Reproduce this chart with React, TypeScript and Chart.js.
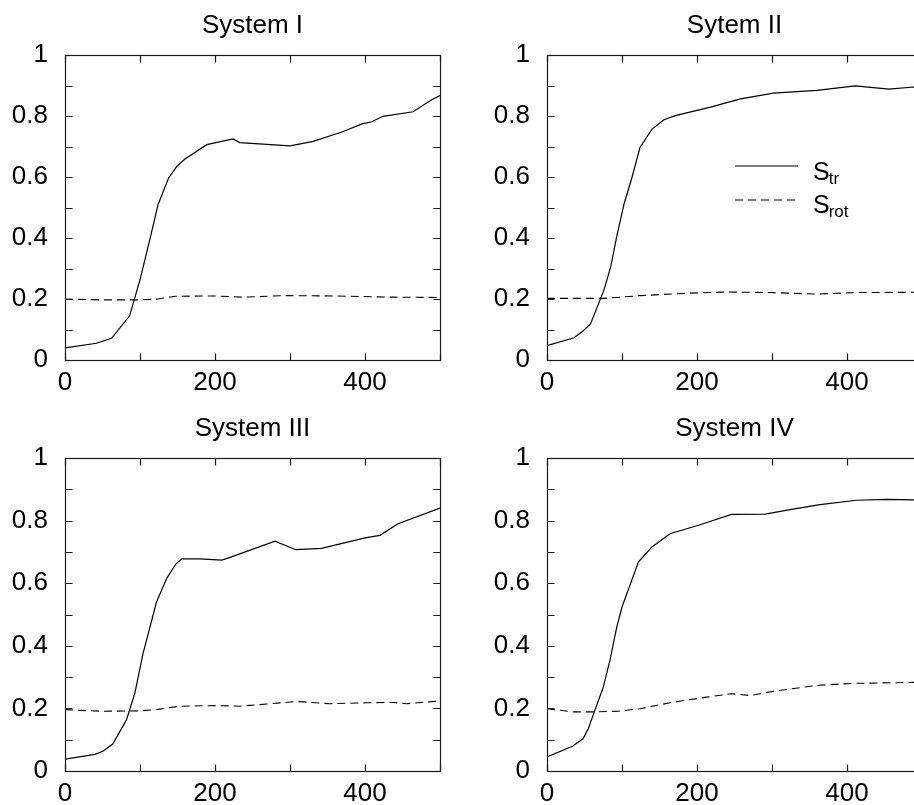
import React, { useEffect, useRef } from 'react';
import { Chart, registerables } from 'chart.js';

Chart.register(...registerables);

// ---------- data ----------
const X_TICKS = [0, 200, 400];
const Y_TICKS = [0, 0.2, 0.4, 0.6, 0.8, 1];
const X_MINOR = [0, 100, 200, 300, 400, 500];
const Y_MINOR = [0, 0.1, 0.2, 0.3, 0.4, 0.5, 0.6, 0.7, 0.8, 0.9, 1];
const TITLES = ['System I', 'Sytem II', 'System III', 'System IV'];
const LEGEND_MAIN = ['S', 'S'];
const LEGEND_SUB = ['tr', 'rot'];

const SYS1_TR: [number, number][] = [
  [0, 0.04], [42, 0.055], [62, 0.071], [86, 0.144], [100, 0.263], [113, 0.394],
  [124, 0.509], [138, 0.596], [149, 0.635], [160, 0.659], [189, 0.706], [224, 0.725],
  [233, 0.713], [264, 0.708], [300, 0.702], [331, 0.717], [371, 0.749], [396, 0.774],
  [409, 0.781], [424, 0.799], [464, 0.814], [489, 0.853], [500, 0.867],
];
const SYS1_ROT: [number, number][] = [
  [0, 0.2], [47, 0.197], [100, 0.197], [124, 0.2], [147, 0.209], [198, 0.21],
  [238, 0.206], [291, 0.211], [358, 0.21], [438, 0.206], [500, 0.205],
];
const SYS2_TR: [number, number][] = [
  [0, 0.047], [36, 0.073], [48, 0.095], [58, 0.118], [76, 0.23], [85, 0.306],
  [93, 0.405], [103, 0.514], [113, 0.596], [124, 0.697], [140, 0.757], [156, 0.788],
  [171, 0.801], [218, 0.829], [258, 0.856], [302, 0.875], [360, 0.884], [411, 0.899],
  [456, 0.888], [489, 0.895], [500, 0.895],
];
const SYS2_ROT: [number, number][] = [
  [0, 0.202], [76, 0.202], [124, 0.211], [187, 0.219], [240, 0.223], [302, 0.221],
  [360, 0.216], [409, 0.221], [489, 0.222], [500, 0.222],
];
const SYS3_TR: [number, number][] = [
  [0, 0.038], [40, 0.053], [51, 0.064], [64, 0.087], [82, 0.164], [93, 0.247],
  [104, 0.375], [122, 0.54], [136, 0.617], [148, 0.662], [156, 0.678], [180, 0.678],
  [209, 0.674], [222, 0.684], [280, 0.734], [308, 0.707], [342, 0.711], [400, 0.745],
  [420, 0.753], [444, 0.79], [500, 0.84],
];
const SYS3_ROT: [number, number][] = [
  [0, 0.196], [47, 0.191], [100, 0.192], [124, 0.197], [153, 0.207], [202, 0.209],
  [233, 0.207], [269, 0.214], [309, 0.222], [353, 0.215], [402, 0.218], [438, 0.219],
  [455, 0.215], [500, 0.224],
];
const SYS4_TR: [number, number][] = [
  [0, 0.045], [34, 0.079], [48, 0.103], [55, 0.135], [75, 0.268], [84, 0.354],
  [93, 0.46], [100, 0.524], [122, 0.668], [140, 0.716], [164, 0.758], [202, 0.785],
  [246, 0.82], [291, 0.821], [324, 0.835], [364, 0.851], [413, 0.865], [453, 0.868],
  [488, 0.866], [500, 0.866],
];
const SYS4_ROT: [number, number][] = [
  [0, 0.199], [34, 0.189], [62, 0.189], [95, 0.191], [124, 0.199], [168, 0.22],
  [213, 0.236], [246, 0.247], [271, 0.241], [302, 0.255], [362, 0.274], [408, 0.28],
  [488, 0.283], [500, 0.284],
];

const SERIES_TR = [SYS1_TR, SYS2_TR, SYS3_TR, SYS4_TR];
const SERIES_ROT = [SYS1_ROT, SYS2_ROT, SYS3_ROT, SYS4_ROT];

// ---------- layout ----------
const FONT = '"Liberation Sans", Arial, Helvetica, sans-serif';
const TICK_SIZE = 26;
const TITLE_SIZE = 26;
const PANELS = [
  { left: 0, top: 0, width: 450, height: 400, padTop: 55, legend: false },
  { left: 482, top: 0, width: 450, height: 400, padTop: 55, legend: true },
  { left: 0, top: 400, width: 450, height: 411, padTop: 58, legend: false },
  { left: 482, top: 400, width: 450, height: 411, padTop: 58, legend: false },
];
const DASH = [8, 5];

const framePlugin = {
  id: 'frame',
  afterDraw(chart: any, _args: any, opts: any) {
    const { ctx, chartArea: a } = chart;
    const xs = chart.scales.x;
    const ys = chart.scales.y;
    const L = Math.round(a.left) + 0.5;
    const R = Math.round(a.right) + 0.5;
    const T = Math.round(a.top) + 0.5;
    const B = Math.round(a.bottom) + 0.5;
    const TL = 7;
    ctx.save();
    ctx.strokeStyle = '#1a1a1a';
    ctx.lineWidth = 1.2;
    ctx.setLineDash([]);
    ctx.strokeRect(L, T, R - L, B - T);
    ctx.beginPath();
    X_MINOR.forEach((v) => {
      const px = Math.round(xs.getPixelForValue(v)) + 0.5;
      ctx.moveTo(px, B); ctx.lineTo(px, B - TL);
      ctx.moveTo(px, T); ctx.lineTo(px, T + TL);
    });
    Y_MINOR.forEach((v) => {
      const py = Math.round(ys.getPixelForValue(v)) + 0.5;
      ctx.moveTo(L, py); ctx.lineTo(L + TL, py);
      ctx.moveTo(R, py); ctx.lineTo(R - TL, py);
    });
    ctx.stroke();

    // title
    ctx.fillStyle = '#000';
    ctx.font = `${TITLE_SIZE}px ${FONT}`;
    ctx.textAlign = 'center';
    ctx.textBaseline = 'alphabetic';
    ctx.fillText(opts.title, (a.left + a.right) / 2, a.top - 22);

    if (opts.legend) {
      const lx0 = a.left + 188;
      const lx1 = a.left + 251;
      const rows = [
        { y: a.top + 111, base: a.top + 125, dash: [] as number[] },
        { y: a.top + 145, base: a.top + 158, dash: DASH },
      ];
      rows.forEach((r, i) => {
        ctx.beginPath();
        ctx.strokeStyle = '#000';
        ctx.lineWidth = 1.2;
        ctx.setLineDash(r.dash);
        ctx.moveTo(lx0, r.y);
        ctx.lineTo(lx1, r.y);
        ctx.stroke();
        ctx.setLineDash([]);
        ctx.textAlign = 'left';
        ctx.font = `25px ${FONT}`;
        const tx = a.left + 266;
        ctx.fillText(LEGEND_MAIN[i], tx, r.base);
        const w = ctx.measureText(LEGEND_MAIN[i]).width;
        ctx.font = `17px ${FONT}`;
        ctx.fillText(LEGEND_SUB[i], tx + w - 1, r.base + 4);
      });
    }
    ctx.restore();
  },
};

function Panel({ idx }: { idx: number }) {
  const ref = useRef<HTMLCanvasElement | null>(null);
  const p = PANELS[idx];
  useEffect(() => {
    if (!ref.current) return;
    const chart = new Chart(ref.current, {
      type: 'line',
      data: {
        datasets: [
          {
            label: 'S_tr',
            data: SERIES_TR[idx].map(([x, y]) => ({ x, y })),
            borderColor: '#000',
            borderWidth: 1.2,
            pointRadius: 0,
            tension: 0,
            fill: false,
          },
          {
            label: 'S_rot',
            data: SERIES_ROT[idx].map(([x, y]) => ({ x, y })),
            borderColor: '#000',
            borderWidth: 1.1,
            borderDash: DASH,
            pointRadius: 0,
            tension: 0,
            fill: false,
          },
        ],
      },
      options: {
        animation: false,
        responsive: false,
        devicePixelRatio: 1,
        layout: { padding: { top: p.padTop, right: 10, left: 0, bottom: 0 } },
        scales: {
          x: {
            type: 'linear',
            min: 0,
            max: 500,
            grid: { display: false, drawTicks: false },
            border: { display: false },
            afterBuildTicks: (s: any) => { s.ticks = X_TICKS.map((v) => ({ value: v })); },
            afterFit: (s: any) => { s.height = 40; },
            ticks: {
              color: '#000',
              padding: 7,
              maxRotation: 0,
              font: { family: FONT, size: TICK_SIZE },
              callback: (v: any) => String(v),
            },
          },
          y: {
            type: 'linear',
            min: 0,
            max: 1,
            grid: { display: false, drawTicks: false },
            border: { display: false },
            afterBuildTicks: (s: any) => { s.ticks = Y_TICKS.map((v) => ({ value: v })); },
            afterFit: (s: any) => { s.width = 65; },
            ticks: {
              color: '#000',
              padding: 17,
              font: { family: FONT, size: TICK_SIZE },
              callback: (v: any) => String(v),
            },
          },
        },
        plugins: {
          legend: { display: false },
          tooltip: { enabled: false },
          title: { display: false },
          frame: { title: TITLES[idx], legend: p.legend },
        } as any,
      },
      plugins: [framePlugin],
    });
    return () => chart.destroy();
  }, [idx]);
  return (
    <canvas
      ref={ref}
      width={p.width}
      height={p.height}
      style={{ position: 'absolute', left: p.left, top: p.top, width: p.width, height: p.height }}
    />
  );
}

export default function App() {
  return (
    <div
      style={{
        position: 'fixed',
        left: 0,
        top: 0,
        width: 914,
        height: 805,
        overflow: 'hidden',
        background: '#fff',
      }}
    >
      {[0, 1, 2, 3].map((i) => (
        <Panel key={i} idx={i} />
      ))}
    </div>
  );
}
